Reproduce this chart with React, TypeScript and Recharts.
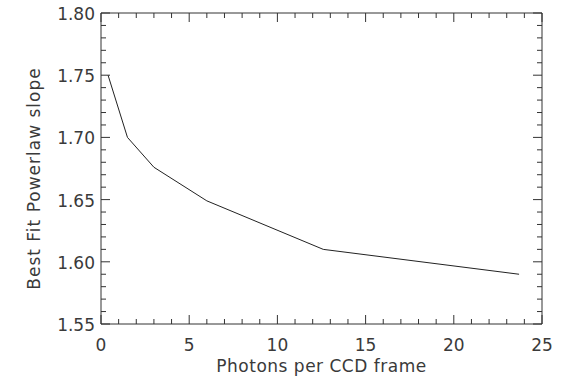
import React from "react";
import { LineChart, Line, XAxis, YAxis } from "recharts";

const photons = [0.4, 1.5, 3, 6, 12.6, 23.7];
const slopes = [1.75, 1.7, 1.676, 1.649, 1.61, 1.59];

const xTicks = [0, 1, 2, 3, 4, 5, 6, 7, 8, 9, 10, 11, 12, 13, 14, 15, 16, 17, 18, 19, 20, 21, 22, 23, 24, 25];
const yTicks = [
  1.55, 1.56, 1.57, 1.58, 1.59, 1.6, 1.61, 1.62, 1.63, 1.64, 1.65, 1.66, 1.67, 1.68, 1.69,
  1.7, 1.71, 1.72, 1.73, 1.74, 1.75, 1.76, 1.77, 1.78, 1.79, 1.8,
];

const xTitle = "Photons per CCD frame";
const yTitle = "Best Fit Powerlaw slope";

const data = photons.map((p, i) => ({ x: p, y: slopes[i] }));

const AX = "#333";
const TXT = "#3a3a3a";
const FONT = "'DejaVu Sans', Verdana, sans-serif";
const FS = 17;
const MAJ = 9;
const MIN = 5;

const isMajorX = (v: number) => Math.round(v) % 5 === 0;
const isMajorY = (v: number) => Math.round(v * 100) % 5 === 0;

const BottomTick = (props: any) => {
  const { x, y, payload } = props;
  const v = payload.value;
  const major = isMajorX(v);
  return (
    <g>
      <line x1={x} y1={y} x2={x} y2={y - (major ? MAJ : MIN)} stroke={AX} strokeWidth={1} />
      {major && (
        <text x={x} y={y + 21} textAnchor="middle" dominantBaseline="central" fontFamily={FONT} fontSize={FS} fill={TXT}>
          {String(v)}
        </text>
      )}
    </g>
  );
};

const TopTick = (props: any) => {
  const { x, y, payload } = props;
  const major = isMajorX(payload.value);
  return <line x1={x} y1={y} x2={x} y2={y + (major ? MAJ : MIN)} stroke={AX} strokeWidth={1} />;
};

const LeftTick = (props: any) => {
  const { x, y, payload } = props;
  const v = payload.value;
  const major = isMajorY(v);
  return (
    <g>
      <line x1={x} y1={y} x2={x + (major ? MAJ : MIN)} y2={y} stroke={AX} strokeWidth={1} />
      {major && (
        <text x={x - 6} y={y + 1} textAnchor="end" dominantBaseline="central" fontFamily={FONT} fontSize={FS} fill={TXT}>
          {v.toFixed(2)}
        </text>
      )}
    </g>
  );
};

const RightTick = (props: any) => {
  const { x, y, payload } = props;
  const major = isMajorY(payload.value);
  return <line x1={x} y1={y} x2={x - (major ? MAJ : MIN)} y2={y} stroke={AX} strokeWidth={1} />;
};

const XTitle = (props: any) => {
  const vb = props.viewBox;
  return (
    <text
      x={vb.x + vb.width / 2}
      y={vb.y + 42}
      textAnchor="middle"
      dominantBaseline="central"
      fontFamily={FONT}
      fontSize={FS}
      letterSpacing={0.5}
      fill={TXT}
    >
      {xTitle}
    </text>
  );
};

const YTitle = (props: any) => {
  const vb = props.viewBox;
  const cx = vb.x + 34;
  const cy = vb.y + vb.height / 2 + 10;
  return (
    <text
      x={cx}
      y={cy}
      transform={`rotate(-90 ${cx} ${cy})`}
      textAnchor="middle"
      dominantBaseline="central"
      fontFamily={FONT}
      fontSize={FS}
      letterSpacing={1}
      fill={TXT}
    >
      {yTitle}
    </text>
  );
};

export default function App() {
  return (
    <div style={{ position: "absolute", left: 0, top: 0, width: 570, height: 377, background: "#fff" }}>
      <LineChart width={570} height={377} data={data} margin={{ top: 12, right: 27, bottom: 0, left: 0 }}>
        <XAxis
          dataKey="x"
          type="number"
          domain={[0, 25]}
          ticks={xTicks}
          interval={0}
          height={53}
          tickSize={0}
          tickMargin={0}
          tickLine={false}
          axisLine={{ stroke: AX, strokeWidth: 1 }}
          tick={<BottomTick />}
          label={<XTitle />}
          allowDataOverflow
        />
        <XAxis
          xAxisId="top"
          dataKey="x"
          orientation="top"
          type="number"
          domain={[0, 25]}
          ticks={xTicks}
          interval={0}
          height={1}
          tickSize={0}
          tickMargin={0}
          tickLine={false}
          axisLine={{ stroke: AX, strokeWidth: 1 }}
          tick={<TopTick />}
          allowDataOverflow
        />
        <YAxis
          type="number"
          domain={[1.55, 1.8]}
          ticks={yTicks}
          interval={0}
          width={101}
          tickSize={0}
          tickMargin={0}
          tickLine={false}
          axisLine={{ stroke: AX, strokeWidth: 1 }}
          tick={<LeftTick />}
          label={<YTitle />}
          allowDataOverflow
        />
        <YAxis
          yAxisId="right"
          orientation="right"
          type="number"
          domain={[1.55, 1.8]}
          ticks={yTicks}
          interval={0}
          width={1}
          tickSize={0}
          tickMargin={0}
          tickLine={false}
          axisLine={{ stroke: AX, strokeWidth: 1 }}
          tick={<RightTick />}
          allowDataOverflow
        />
        <Line
          dataKey="y"
          type="linear"
          stroke="#222"
          strokeWidth={1}
          dot={false}
          isAnimationActive={false}
        />
        <Line
          xAxisId="top"
          yAxisId="right"
          dataKey="y"
          type="linear"
          stroke="none"
          dot={false}
          activeDot={false}
          legendType="none"
          isAnimationActive={false}
        />
      </LineChart>
    </div>
  );
}
